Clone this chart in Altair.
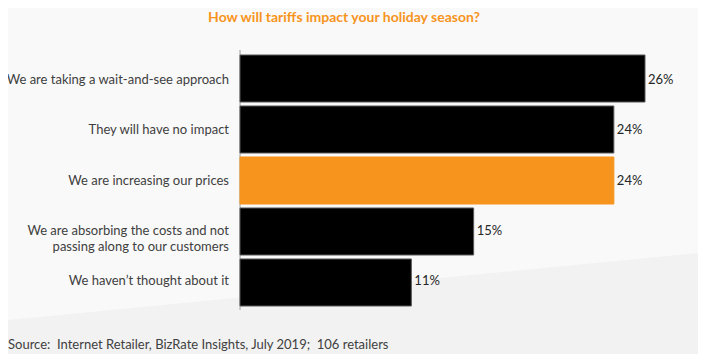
import altair as alt
import pandas as pd

# ---- data ----
categories = [
    "We are taking a wait-and-see approach",
    "They will have no impact",
    "We are increasing our prices",
    "We are absorbing the costs and not\npassing along to our customers",
    "We haven\u2019t thought about it",
]
values = [26, 24, 24, 15, 11]
kinds = ["other", "other", "highlight", "other", "other"]
value_labels = ["26%", "24%", "24%", "15%", "11%"]

title_text = "How will tariffs impact your holiday season?"
source_text = "Source:\u00a0 Internet Retailer, BizRate Insights, July 2019;\u00a0 106 retailers"

# decorative background band (pixel positions, not data)
bg_px = [0, 690]
bg_py = [312, 245]

W, H = 690, 346
ORANGE = "#F7941D"

df = pd.DataFrame({
    "category": categories,
    "value": values,
    "kind": kinds,
    "label": value_labels,
})
bg = pd.DataFrame({"px": bg_px, "py": bg_py})

x_scale = alt.Scale(domain=[0, 26], range=[232, 637])
x_enc = alt.X("value:Q", axis=None, scale=x_scale)
y_enc = alt.Y("category:N", sort=categories, axis=None,
              scale=alt.Scale(range=[47, 298], paddingInner=0.078, paddingOuter=0))

base = alt.Chart(df)

bars = base.mark_bar(strokeWidth=1).encode(
    x=x_enc,
    y=y_enc,
    color=alt.Color("kind:N", scale=alt.Scale(domain=["other", "highlight"], range=["#000000", ORANGE]), legend=None),
    stroke=alt.Stroke("kind:N", scale=alt.Scale(domain=["other", "highlight"], range=["#595959", ORANGE]), legend=None),
)

vals = base.mark_text(align="left", baseline="middle", dx=3, font="Lato", fontSize=13, color="#262626").encode(
    x=x_enc, y=y_enc, text="label:N"
)

cat_labels = base.mark_text(align="right", baseline="middle", font="Lato", fontSize=13,
                            color="#404040", lineBreak="\n", lineHeight=16).encode(
    x=alt.value(221), y=y_enc, text="category:N"
)

axis_line = base.mark_rule(color="#c8c8c8", strokeWidth=1).encode(
    x=alt.XDatum(0, scale=x_scale), y=alt.value(42), y2=alt.value(302)
)

title = alt.Chart(pd.DataFrame({"t": [title_text]})).mark_text(
    align="center", baseline="middle", font="Lato", fontSize=14, fontWeight="bold", color=ORANGE
).encode(x=alt.value(336), y=alt.value(10), text="t:N")

source = alt.Chart(pd.DataFrame({"t": [source_text]})).mark_text(
    align="left", baseline="middle", font="Lato", fontSize=13, color="#404040"
).encode(x=alt.value(0), y=alt.value(337), text="t:N")

bg_area = alt.Chart(bg).mark_area(color="#f9f9f9").encode(
    x=alt.X("px:Q", scale=alt.Scale(domain=[0, W], range=[0, W]), axis=None),
    y=alt.Y("py:Q", scale=alt.Scale(domain=[0, H], range=[0, H]), axis=None),
    y2=alt.value(H),
)

chart = alt.layer(bg_area, axis_line, bars, vals, cat_labels, title, source).resolve_scale(
    x="independent", y="independent"
).properties(
    width=W, height=H, autosize=alt.AutoSizeParams(type="none"), padding=0,
    background="#f2f2f2",
).configure_view(stroke=None)

chart.save("out.html", embed_options={"renderer": "svg", "actions": False})
